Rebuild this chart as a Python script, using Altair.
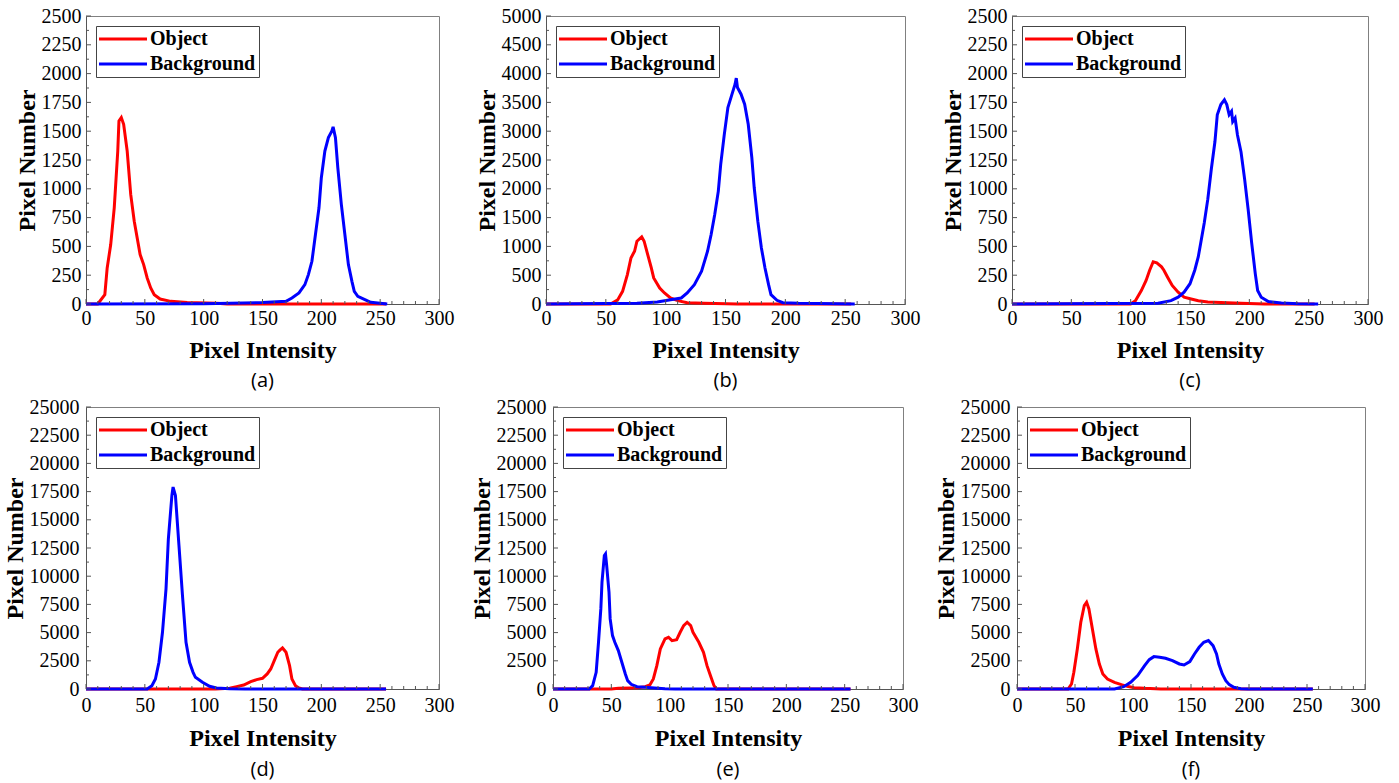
import altair as alt
import pandas as pd

SERIES = ["Object", "Background"]
COLORS = ["#ff0000", "#0000ff"]
SUBLABELS = ["(a)", "(b)", "(c)", "(d)", "(e)", "(f)"]
X_TICKS = [0, 50, 100, 150, 200, 250, 300]
Y_MAX = [2500, 5000, 2500, 25000, 25000, 25000]
Y_STEP = [250, 500, 250, 2500, 2500, 2500]

# ---- (a) ----
A_OBJ_X = [0, 10, 16, 18, 21, 24, 27, 28, 30, 32, 35, 38, 41, 44, 46, 49, 52, 55, 58, 63, 72, 86, 111, 120, 255]
A_OBJ_Y = [0, 0, 81, 313, 516, 835, 1328, 1589, 1618, 1560, 1328, 951, 719, 545, 429, 342, 226, 139, 81, 43, 23, 12, 6, 0, 0]
A_BG_X = [0, 100, 150, 170, 175, 181, 186, 189, 192, 195, 198, 200, 203, 206, 209, 210, 212, 214, 217, 220, 223, 226, 228, 231, 237, 242, 256]
A_BG_Y = [0, 3, 12, 23, 52, 96, 168, 255, 371, 603, 835, 1096, 1328, 1444, 1502, 1537, 1444, 1183, 864, 603, 342, 197, 110, 67, 38, 15, 0]
# ---- (b) ----
B_OBJ_X = [0, 54, 60, 64, 68, 71, 74, 76, 80, 82, 85, 88, 90, 95, 99, 104, 110, 118, 132, 160, 255]
B_OBJ_Y = [0, 0, 75, 220, 510, 800, 916, 1090, 1166, 1090, 858, 626, 452, 278, 191, 104, 58, 23, 12, 0, 0]
B_BG_X = [0, 76, 93, 104, 113, 118, 124, 130, 135, 138, 141, 144, 146, 149, 152, 155, 158, 159, 160, 163, 166, 169, 172, 174, 177, 180, 183, 186, 188, 193, 198, 211, 258]
B_BG_Y = [0, 12, 35, 75, 104, 191, 336, 568, 916, 1206, 1554, 1960, 2424, 2946, 3410, 3613, 3816, 3921, 3758, 3642, 3468, 3120, 2540, 2018, 1438, 974, 626, 336, 162, 64, 23, 12, 0]
# ---- (c) ----
C_OBJ_X = [0, 100, 104, 109, 113, 116, 119, 122, 126, 128, 131, 135, 140, 145, 151, 157, 165, 176, 193, 213, 255]
C_OBJ_Y = [0, 0, 29, 117, 205, 293, 367, 358, 323, 293, 235, 161, 103, 59, 44, 29, 18, 12, 6, 0, 0]
C_BG_X = [0, 123, 134, 140, 145, 150, 154, 157, 159, 162, 165, 168, 171, 173, 176, 179, 181, 183, 185, 186, 188, 190, 193, 196, 199, 202, 205, 207, 210, 216, 227, 241, 258]
C_BG_Y = [0, 6, 29, 59, 103, 176, 293, 411, 528, 704, 910, 1174, 1408, 1643, 1731, 1772, 1731, 1643, 1672, 1584, 1614, 1467, 1320, 1086, 822, 528, 264, 117, 59, 21, 9, 3, 0]
# ---- (d) ----
D_OBJ_X = [0, 110, 122, 128, 134, 140, 145, 150, 154, 157, 160, 163, 165, 167, 170, 173, 175, 178, 181, 184, 255]
D_OBJ_Y = [0, 0, 59, 207, 355, 651, 829, 947, 1332, 1775, 2515, 3255, 3462, 3640, 3255, 2071, 888, 296, 89, 0, 0]
D_BG_X = [0, 52, 56, 59, 62, 65, 68, 70, 73, 74, 76, 79, 82, 85, 88, 91, 93, 99, 105, 111, 122, 135, 255]
D_BG_Y = [0, 0, 296, 888, 2367, 5030, 8877, 13316, 17162, 17902, 17162, 12724, 8285, 4143, 2367, 1480, 1036, 592, 237, 89, 30, 0, 0]
# ---- (e) ----
E_OBJ_X = [0, 50, 56, 67, 73, 79, 83, 86, 89, 92, 96, 99, 102, 106, 109, 112, 115, 118, 120, 125, 129, 132, 135, 138, 140, 255]
E_OBJ_Y = [0, 0, 59, 89, 118, 207, 355, 888, 2071, 3551, 4439, 4586, 4291, 4380, 5030, 5622, 5918, 5622, 5030, 4143, 3255, 2071, 1184, 296, 0, 0]
E_BG_X = [0, 31, 34, 37, 39, 41, 42, 44, 45, 46, 48, 49, 51, 53, 56, 59, 62, 64, 67, 72, 79, 87, 96, 105, 255]
E_BG_Y = [0, 0, 296, 1480, 4143, 7102, 9469, 11836, 11984, 10948, 8581, 6214, 4734, 4143, 3403, 2367, 1332, 740, 414, 207, 148, 89, 30, 0, 0]
# ---- (f) ----
F_OBJ_X = [0, 44, 47, 49, 52, 55, 58, 60, 62, 65, 68, 71, 74, 78, 84, 90, 95, 101, 110, 124, 255]
F_OBJ_Y = [0, 0, 444, 1480, 3551, 5918, 7398, 7694, 7102, 5326, 3551, 2219, 1332, 888, 592, 385, 237, 118, 59, 0, 0]
F_BG_X = [0, 84, 92, 98, 104, 110, 114, 118, 123, 128, 134, 140, 144, 149, 153, 157, 161, 165, 169, 172, 174, 177, 180, 183, 187, 193, 199, 255]
F_BG_Y = [0, 0, 207, 592, 1184, 2071, 2604, 2870, 2811, 2722, 2515, 2219, 2130, 2426, 3107, 3699, 4143, 4291, 3847, 3107, 2219, 1332, 740, 385, 148, 30, 0, 0]

OBJ = [(A_OBJ_X, A_OBJ_Y), (B_OBJ_X, B_OBJ_Y), (C_OBJ_X, C_OBJ_Y),
       (D_OBJ_X, D_OBJ_Y), (E_OBJ_X, E_OBJ_Y), (F_OBJ_X, F_OBJ_Y)]
BG = [(A_BG_X, A_BG_Y), (B_BG_X, B_BG_Y), (C_BG_X, C_BG_Y),
      (D_BG_X, D_BG_Y), (E_BG_X, E_BG_Y), (F_BG_X, F_BG_Y)]

WIDTHS = [353, 359, 356, 353, 350, 348]
HEIGHTS = [288, 288, 288, 282, 282, 282]
# per-row spacing tweaks (top row, bottom row)
X_LABEL_PAD = [4, 4, 4, 6, 6, 6]
X_TITLE_PAD = [10, 10, 10, 11, 11, 11]
Y_LABEL_PAD = [5, 5, 5, 7, 7, 7]
SUB_OFFSET = [9, 9, 9, 10, 10, 10]

SERIF = "Liberation Serif"


def panel(i):
    w, h = WIDTHS[i], HEIGHTS[i]
    ymax, ystep = Y_MAX[i], Y_STEP[i]
    df_obj = pd.DataFrame({"x": OBJ[i][0], "y": OBJ[i][1], "series": "Object"})
    df_bg = pd.DataFrame({"x": BG[i][0], "y": BG[i][1], "series": "Background"})
    xs = alt.Scale(domain=[0, 300], nice=False, zero=False)
    ys = alt.Scale(domain=[0, ymax], nice=False)
    xaxis = alt.Axis(values=X_TICKS, title="Pixel Intensity", ticks=False, grid=False,
                     labelFlush=False, format="d",
                     labelPadding=X_LABEL_PAD[i], titlePadding=X_TITLE_PAD[i])
    yaxis = alt.Axis(values=list(range(0, ymax + 1, ystep)), title="Pixel Number",
                     ticks=False, grid=False, labelFlush=False, format="d",
                     labelPadding=Y_LABEL_PAD[i], titlePadding=2)
    color = alt.Color(
        "series:N",
        scale=alt.Scale(domain=SERIES, range=COLORS),
        legend=alt.Legend(
            title=None, orient="top-left", offset=10,
            symbolType="M-4.8,0H4.8", symbolSize=100, symbolStrokeWidth=3,
            symbolOffset=14, labelOffset=17,
            labelFont=SERIF, labelFontSize=20, labelFontWeight="bold",
            labelColor="black", strokeColor="#444444", fillColor="white",
            padding=3, rowPadding=5,
        ),
    )

    def line(df):
        return alt.Chart(df).mark_line(strokeWidth=3).encode(
            x=alt.X("x:Q", scale=xs, axis=xaxis),
            y=alt.Y("y:Q", scale=ys, axis=yaxis),
            color=color,
            order=alt.Order("x:Q"),
        )

    xt_major = pd.DataFrame({"x": X_TICKS})
    xt_minor = pd.DataFrame({"x": [v for v in range(0, 301, 10) if v % 50]})
    yt_major = pd.DataFrame({"y": list(range(0, ymax + 1, ystep))})
    yt_minor = pd.DataFrame({"y": [v + ystep / 2 for v in range(0, ymax, ystep)]})

    def xtick(df, ln):
        return alt.Chart(df).mark_rule(color="#555555", strokeWidth=1).encode(
            x=alt.X("x:Q", scale=xs, axis=xaxis),
            y=alt.value(h), y2=alt.value(h - ln))

    def ytick(df, ln):
        return alt.Chart(df).mark_rule(color="#555555", strokeWidth=1).encode(
            y=alt.Y("y:Q", scale=ys, axis=yaxis),
            x=alt.value(0), x2=alt.value(ln))

    return alt.layer(
        line(df_obj), line(df_bg),
        xtick(xt_major, 5), xtick(xt_minor, 3),
        ytick(yt_major, 5), ytick(yt_minor, 3),
    ).properties(
        width=w, height=h,
        title=alt.TitleParams(SUBLABELS[i], orient="bottom", anchor="middle",
                              font="Open Sans", fontSize=20, fontWeight="normal",
                              color="black", offset=SUB_OFFSET[i]),
    )


row1 = alt.hconcat(panel(0), panel(1), panel(2), spacing=19).resolve_scale(
    x="independent", y="independent", color="independent")
row2 = alt.hconcat(panel(3), panel(4), panel(5), spacing=14).resolve_scale(
    x="independent", y="independent", color="independent")

chart = alt.vconcat(row1, row2, spacing=4).resolve_scale(
    x="independent", y="independent", color="independent"
).properties(
    padding={"left": 2, "top": 5, "right": 5, "bottom": 0},
    background="white",
).configure_view(
    stroke="#808080", strokeWidth=1
).configure_axis(
    domainColor="#555555", domainWidth=1,
    labelFont=SERIF, labelFontSize=20, labelColor="black",
    titleFont=SERIF, titleFontSize=24, titleFontWeight="bold", titleColor="black",
)

chart.save("out.html", embed_options={"renderer": "svg", "actions": False})
